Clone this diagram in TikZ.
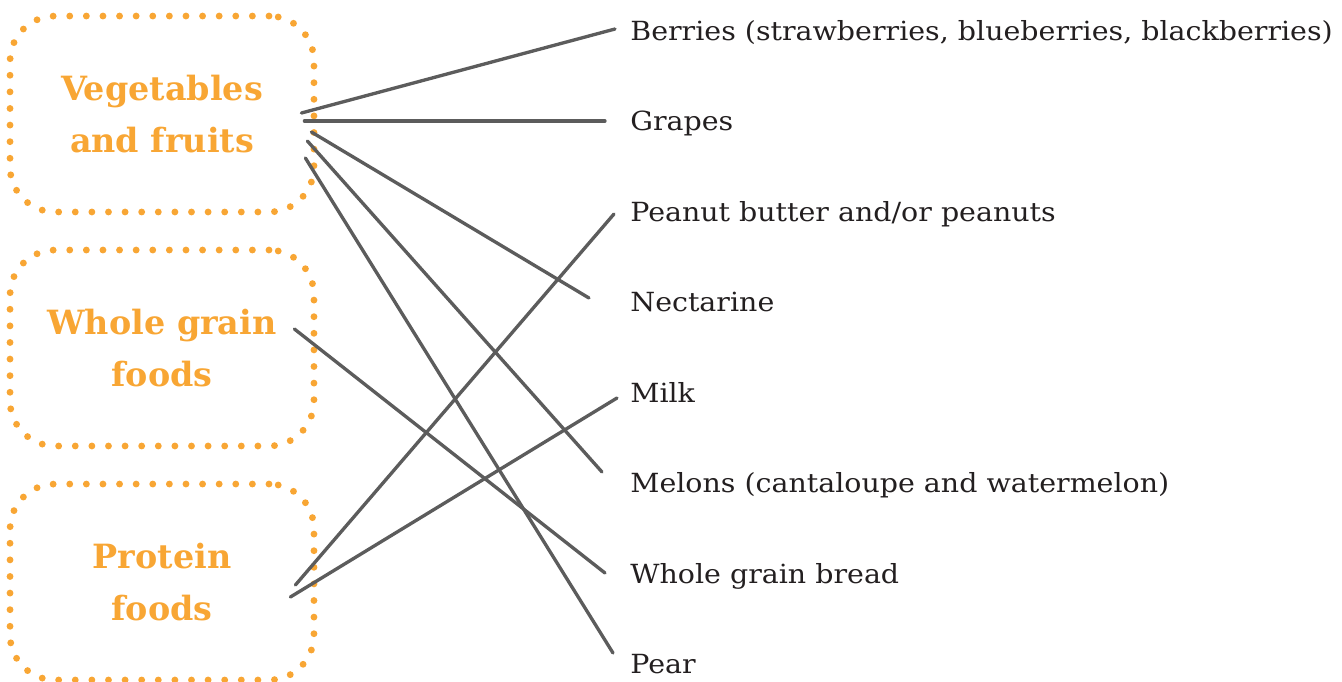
\documentclass[tikz,border=0pt]{standalone}
\usepackage{fontspec}
\setmainfont{DejaVu Serif}
\newfontfamily\itemfont{DejaVu Serif}[FakeStretch=1.08]
\definecolor{snackorange}{RGB}{248,166,52}
\definecolor{pencil}{RGB}{92,92,92}
\definecolor{ink}{RGB}{35,31,32}

\begin{document}
\begin{tikzpicture}[x=0.02cm, y=-0.02cm,
        group/.style={draw=snackorange, line width=3.9pt, line cap=round,
            dash pattern=on 0pt off 9.45pt, rounded corners=0.9cm,
            minimum width=6.08cm, minimum height=3.92cm, inner sep=0pt,
            align=center, text=snackorange,
            font=\bfseries\fontsize{19}{29.5}\selectfont},
        item/.style={anchor=base west, inner sep=0pt, text=ink,
            font=\itemfont\fontsize{15}{18}\selectfont},
        link/.style={pencil, line width=1.9pt, line cap=round}]
        \useasboundingbox (0,0) rectangle (1342,681);

        % Food groups
        \node[group] (veg) at (162,114) {Vegetables\\and fruits};
        \node[group] (grain) at (162,348) {Whole grain\\foods};
        \node[group] (protein) at (162,582) {Protein\\foods};

        % Foods
        \node[item] (berries) at (630,40) {Berries (strawberries, blueberries, blackberries)};
        \node[item] (grapes) at (630,130.5) {Grapes};
        \node[item] (peanut) at (630,221) {Peanut butter and/or peanuts};
        \node[item] (nectarine) at (630,311.5) {Nectarine};
        \node[item] (milk) at (630,402) {Milk};
        \node[item] (melons) at (630,492.5) {Melons (cantaloupe and watermelon)};
        \node[item] (bread) at (630,583) {Whole grain bread};
        \node[item] (pear) at (630,673.5) {Pear};

        % Matching lines
        \draw[link] ([shift={(-16,-1)}]veg.east) -- ([shift={(-15,-11)}]berries.base west);
        \draw[link] ([shift={(-13,7)}]veg.east) -- ([shift={(-25,-9.5)}]grapes.base west);
        \draw[link] ([shift={(-6,18)}]veg.east) -- ([shift={(-41,-13.5)}]nectarine.base west);
        \draw[link] ([shift={(-10,27)}]veg.east) -- ([shift={(-28,-20.5)}]melons.base west);
        \draw[link] ([shift={(-12,44)}]veg.east) -- ([shift={(-17,-20.5)}]pear.base west);
        \draw[link] ([shift={(-23,-19)}]grain.east) -- ([shift={(-25,-10)}]bread.base west);
        \draw[link] ([shift={(-22,3)}]protein.east) -- ([shift={(-16,-7)}]peanut.base west);
        \draw[link] ([shift={(-27,15)}]protein.east) -- ([shift={(-13,-4)}]milk.base west);

    \end{tikzpicture}
\end{document}
